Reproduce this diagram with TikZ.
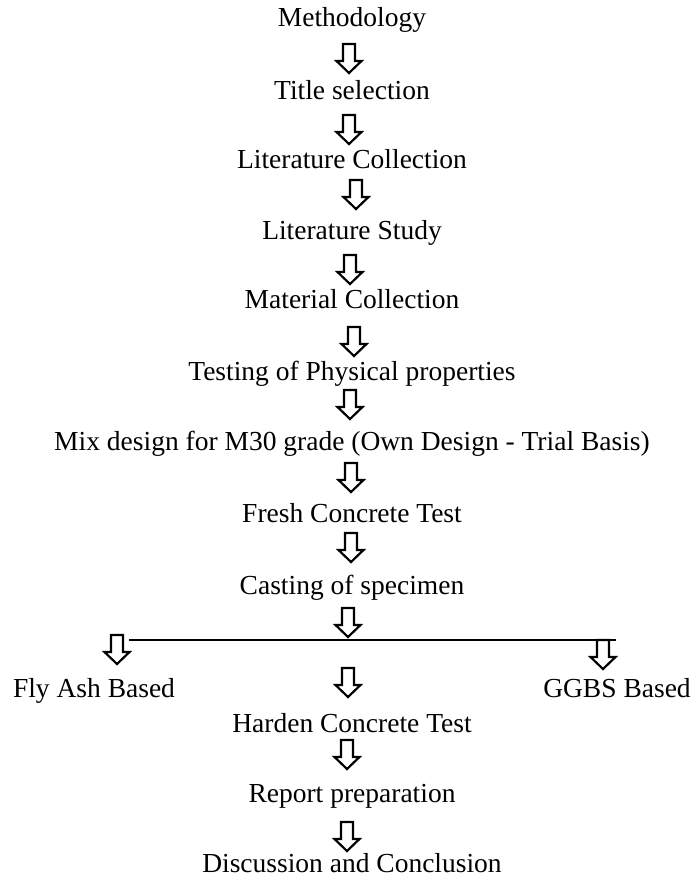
\documentclass[tikz,border=0pt]{standalone}
\usepackage{fontspec}
\setmainfont{Liberation Serif}
\tikzset{
  hollowdown/.pic={
    \draw[line width=2.2pt, line join=miter, fill=white]
      (-6,0) -- (6,0) -- (6,17) -- (12.5,17) -- (0,29) -- (-12.5,17) -- (-6,17) -- cycle;
  },
  steptext/.style={anchor=base, inner sep=0pt, font=\fontsize{27.5}{33}\selectfont}
}
\begin{document}
\begin{tikzpicture}[x=1pt, y=-1pt]
  \useasboundingbox (0,0) rectangle (693,878);
  \node[steptext] (meth)     at (352,27)  {Methodology};
  \node[steptext] (title)    at (352,99)  {Title selection};
  \node[steptext] (litcol)   at (352,168) {Literature Collection};
  \node[steptext] (litstudy) at (352,239) {Literature Study};
  \node[steptext] (matcol)   at (352,308) {Material Collection};
  \node[steptext] (testphys) at (352,380) {Testing of Physical properties};
  \node[steptext] (mixdes)   at (352,450) {Mix design for M30 grade (Own Design - Trial Basis)};
  \node[steptext] (fresh)    at (352,522) {Fresh Concrete Test};
  \node[steptext] (casting)  at (352,594) {Casting of specimen};
  \node[steptext] (flyash)   at (94,697)  {Fly Ash Based};
  \node[steptext] (ggbs)     at (617,697) {GGBS Based};
  \node[steptext] (harden)   at (352,732) {Harden Concrete Test};
  \node[steptext] (report)   at (352,802) {Report preparation};
  \node[steptext] (discuss)  at (352,872) {Discussion and Conclusion};
  % split line
  \coordinate (lineL) at (129,640);
  \coordinate (lineR) at (616,640);
  \draw[line width=2.4pt] (lineL) -- (lineR);
  % hollow arrows
  \foreach \ax/\ay in {349/44, 349/115, 356/180, 350/255, 354/327, 350/390,
                       351/463, 351/533, 348/608, 117/635, 603/640, 348/668,
                       347/740, 347/822}
    \pic at (\ax,\ay) {hollowdown};
\end{tikzpicture}
\end{document}
